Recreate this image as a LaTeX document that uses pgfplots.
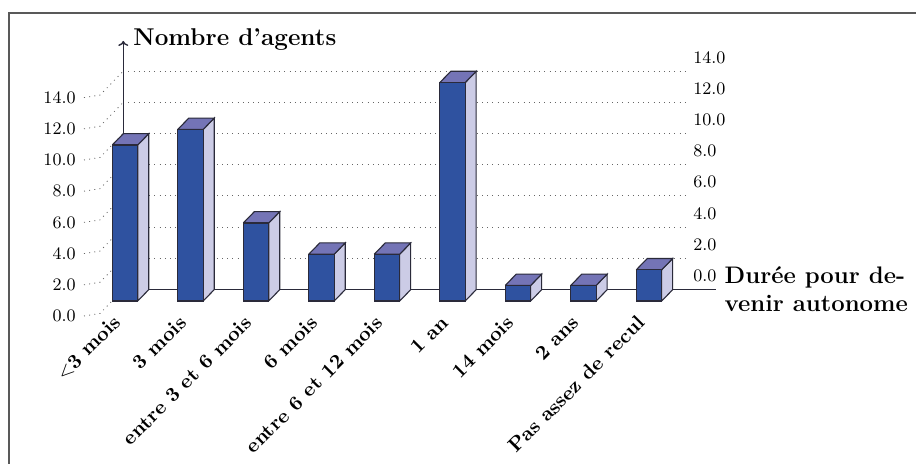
\documentclass[border=0pt]{standalone}
\usepackage{pgfplots}
\usetikzlibrary{arrows.meta}
\pgfplotsset{compat=1.18}
\definecolor{frontc}{HTML}{2F52A0}
\definecolor{topc}{HTML}{7474B6}
\definecolor{sidec}{HTML}{CCCCE6}
\definecolor{edgec}{HTML}{2A2A3A}
\pgfplotsset{
  base/.style={
    scale only axis, width=600bp, height=249.6bp,
    xmin=-0.6107, xmax=8.55, ymin=0, ymax=16,
    clip=false,
    axis line style={draw=none},
    tick style={draw=none},
    ytick={0,2,4,6,8,10,12,14},
    /pgf/number format/fixed, /pgf/number format/fixed zerofill, /pgf/number format/precision=1,
    /pgf/number format/assume math mode=true,
  },
  grid line/.style={black!60, line width=0.8bp, dash pattern=on 1bp off 4.2bp},
  side/.style={fill=sidec, draw=edgec, line width=1.1bp, line join=miter},
  topf/.style={fill=topc, draw=edgec, line width=1.1bp, line join=miter},
}
\begin{document}
\begin{tikzpicture}
\path[use as bounding box] (-85bp,-163bp) rectangle (831bp,301bp);
\begin{axis}[base, at={(0,0)}, anchor=south west,
  xtick={0,1,2,3,4,5,6,7,8},
  xticklabels={{$<$3 mois},{3 mois},{entre 3 et 6 mois},{6 mois},{entre 6 et 12 mois},{1 an},{14 mois},{2 ans},{Pas assez de recul}},
  xticklabel style={font=\normalsize\bfseries, yshift=-18bp, xshift=-7.5bp, rotate=45, anchor=east, inner sep=0pt, scale=2.03},
  yticklabel style={font=\small, xshift=-9bp, yshift=-15bp, anchor=east, inner sep=0pt, scale=1.96},
  yticklabel pos=left,
]
% back grid
\addplot[grid line] coordinates {(-0.026,2.74) (8.55,2.74)};
\addplot[grid line] coordinates {(-0.026,4.74) (8.55,4.74)};
\addplot[grid line] coordinates {(-0.026,6.74) (8.55,6.74)};
\addplot[grid line] coordinates {(-0.026,8.74) (8.55,8.74)};
\addplot[grid line] coordinates {(-0.026,10.74) (8.55,10.74)};
\addplot[grid line] coordinates {(-0.026,12.74) (8.55,12.74)};
\addplot[grid line] coordinates {(-0.026,14.74) (8.55,14.74)};
% connectors
\addplot[grid line] coordinates {(-0.626,-0.96) (-0.382,-0.8) (-0.026,0.74)};
\addplot[grid line] coordinates {(-0.626,1.04) (-0.382,1.2) (-0.026,2.74)};
\addplot[grid line] coordinates {(-0.626,3.04) (-0.382,3.2) (-0.026,4.74)};
\addplot[grid line] coordinates {(-0.626,5.04) (-0.382,5.2) (-0.026,6.74)};
\addplot[grid line] coordinates {(-0.626,7.04) (-0.382,7.2) (-0.026,8.74)};
\addplot[grid line] coordinates {(-0.626,9.04) (-0.382,9.2) (-0.026,10.74)};
\addplot[grid line] coordinates {(-0.626,11.04) (-0.382,11.2) (-0.026,12.74)};
\addplot[grid line] coordinates {(-0.626,13.04) (-0.382,13.2) (-0.026,14.74)};
% floor and vertical axis
\addplot[edgec, line width=1bp] coordinates {(-0.026,0.74) (9.02,0.74)};
\addplot[edgec, line width=1.4bp, -{To[length=5bp,width=10bp]}] coordinates {(-0.026,0.74) (-0.026,16.67)};
% side faces
\addplot[side] coordinates {(0.194,0) (0.362,0.725) (0.362,10.725) (0.194,10) (0.194,0)};
\addplot[side] coordinates {(1.194,0) (1.362,0.725) (1.362,11.725) (1.194,11) (1.194,0)};
\addplot[side] coordinates {(2.194,0) (2.362,0.725) (2.362,5.725) (2.194,5) (2.194,0)};
\addplot[side] coordinates {(3.194,0) (3.362,0.725) (3.362,3.725) (3.194,3) (3.194,0)};
\addplot[side] coordinates {(4.194,0) (4.362,0.725) (4.362,3.725) (4.194,3) (4.194,0)};
\addplot[side] coordinates {(5.194,0) (5.362,0.725) (5.362,14.725) (5.194,14) (5.194,0)};
\addplot[side] coordinates {(6.194,0) (6.362,0.725) (6.362,1.725) (6.194,1) (6.194,0)};
\addplot[side] coordinates {(7.194,0) (7.362,0.725) (7.362,1.725) (7.194,1) (7.194,0)};
\addplot[side] coordinates {(8.194,0) (8.362,0.725) (8.362,2.725) (8.194,2) (8.194,0)};
% top faces
\addplot[topf] coordinates {(-0.194,10) (-0.026,10.725) (0.362,10.725) (0.194,10) (-0.194,10)};
\addplot[topf] coordinates {(0.806,11) (0.974,11.725) (1.362,11.725) (1.194,11) (0.806,11)};
\addplot[topf] coordinates {(1.806,5) (1.974,5.725) (2.362,5.725) (2.194,5) (1.806,5)};
\addplot[topf] coordinates {(2.806,3) (2.974,3.725) (3.362,3.725) (3.194,3) (2.806,3)};
\addplot[topf] coordinates {(3.806,3) (3.974,3.725) (4.362,3.725) (4.194,3) (3.806,3)};
\addplot[topf] coordinates {(4.806,14) (4.974,14.725) (5.362,14.725) (5.194,14) (4.806,14)};
\addplot[topf] coordinates {(5.806,1) (5.974,1.725) (6.362,1.725) (6.194,1) (5.806,1)};
\addplot[topf] coordinates {(6.806,1) (6.974,1.725) (7.362,1.725) (7.194,1) (6.806,1)};
\addplot[topf] coordinates {(7.806,2) (7.974,2.725) (8.362,2.725) (8.194,2) (7.806,2)};
% front faces
\addplot[ybar, bar width=25.4bp, bar shift=0pt, fill=frontc, draw=edgec, line width=1.1bp]
  coordinates {(0,10) (1,11) (2,5) (3,3) (4,3) (5,14) (6,1) (7,1) (8,2)};
\node[anchor=base west, inner sep=0pt, font=\large\bfseries, scale=2.03] at (axis cs:0.122,16.41) {Nombre d'agents};
\node[anchor=north west, inner sep=0pt, align=left, font=\large\bfseries, scale=2.0] at (axis cs:9.15,2.2) {Durée pour de-\\venir autonome};
\end{axis}
\begin{axis}[base, at={(0,0)}, anchor=south west,
  xtick=\empty, yticklabel pos=right,
  yticklabel style={font=\small, xshift=8bp, yshift=25.3bp, anchor=west, inner sep=0pt, scale=1.96},
]
\addplot[draw=none, forget plot] coordinates {(0,0) (8,14)};
\end{axis}
\draw[black!65, line width=1.1bp] (-76bp,-163bp) -- (-76bp,288bp) -- (831bp,288bp);
\end{tikzpicture}
\end{document}
